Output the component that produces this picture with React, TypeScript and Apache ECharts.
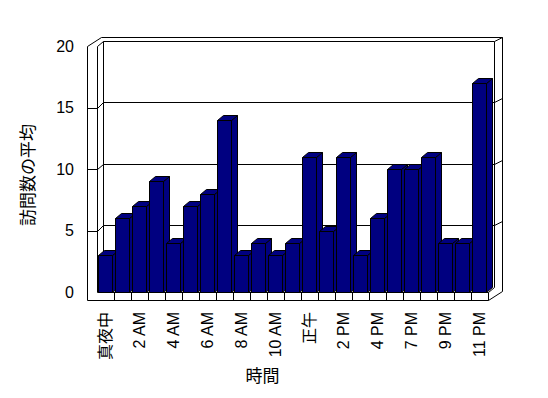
import React, { useEffect, useRef } from "react";
import * as echarts from "echarts";

const categories = [
  "真夜中", "1 AM", "2 AM", "3 AM", "4 AM", "5 AM", "6 AM", "7 AM", "8 AM", "9 AM", "10 AM", "11 AM",
  "正午", "1 PM", "2 PM", "3 PM", "4 PM", "5 PM", "7 PM", "8 PM", "9 PM", "10 PM", "11 PM",
];
const visits = [3, 6, 7, 9, 4, 7, 8, 14, 3, 4, 3, 4, 11, 5, 11, 3, 6, 10, 10, 11, 4, 4, 17];
const yTicks = [0, 5, 10, 15, 20];
const xTitle = "時間";
const yTitle = "訪問数の平均";

const FONT = "'Liberation Sans', 'Noto Sans CJK JP', sans-serif";
const NAVY = "#000080";
const D1: [number, number] = [6, -5.5];
const D2: [number, number] = [14, -9.5];
const BAR_D: [number, number] = [6, -5];
const WALL = 10;
const FLOOR = 8;

const px = (x: number, y: number): [number, number] => [Math.round(x) + 0.5, Math.round(y) + 0.5];
const lineStyle = { stroke: "#000", lineWidth: 1, fill: "none" };

export default function App() {
  const ref = useRef<HTMLDivElement>(null);
  useEffect(() => {
    document.body.style.margin = "0";
    if (!ref.current) return;
    const chart = echarts.init(ref.current, undefined, { renderer: "svg" });
    const yMax = yTicks[yTicks.length - 1];

    const frameItem = (params: any, api: any) => {
      const bw = api.size([1, 0])[0];
      const c0 = api.coord([0, 0]);
      const A = c0[0] - bw / 2;
      const B = c0[1];
      const R = A + bw * categories.length;
      const T = api.coord([0, yMax])[1];
      const children: any[] = [];
      children.push({
        type: "polygon",
        shape: {
          points: [
            px(A - WALL, T), px(A - WALL + D2[0], T + D2[1]), px(R + D2[0], T + D2[1]),
            px(R + D2[0], B + FLOOR + D2[1]), px(R, B + FLOOR), px(A - WALL, B + FLOOR),
          ],
        },
        style: { fill: "#fff", stroke: "#000", lineWidth: 1 },
      });
      const pl = (pts: [number, number][]) =>
        children.push({ type: "polyline", shape: { points: pts }, style: lineStyle });
      pl([px(A, T), px(A + D1[0], T + D1[1]), px(R + D1[0], T + D1[1]), px(R + D2[0], T + D2[1])]);
      pl([px(A, T), px(A, B)]);
      pl([px(A + D1[0], T + D1[1]), px(A + D1[0], B + D1[1])]);
      pl([px(R + D1[0], T + D1[1]), px(R + D1[0], B + D1[1])]);
      pl([px(A, B), px(R, B), px(R + D1[0], B + D1[1])]);
      for (let k = 1; k <= categories.length; k++) {
        pl([px(A + k * bw, B), px(A + k * bw, B + FLOOR)]);
      }
      yTicks.slice(1, -1).forEach((t) => {
        const y = api.coord([0, t])[1];
        pl([
          px(A - WALL, y), px(A, y), px(A + D1[0], y + D1[1]),
          px(R + D1[0], y + D1[1]), px(R + D2[0], y + D2[1]),
        ]);
      });
      return { type: "group", children };
    };

    const barItem = (params: any, api: any) => {
      const i = api.value(0);
      const v = api.value(1);
      const top = api.coord([i, v]);
      const base = api.coord([i, 0]);
      const bw = api.size([1, 0])[0];
      const x0 = Math.round(top[0] - bw / 2 + 1) + 0.5;
      const x1 = x0 + Math.round(bw - 3);
      const yt = Math.round(top[1]) + 0.5;
      const yb = Math.round(base[1]) + 0.5;
      const [dx, dy] = BAR_D;
      const st = { fill: NAVY, stroke: "#000", lineWidth: 1 };
      return {
        type: "group",
        children: [
          { type: "polygon", shape: { points: [[x1, yt], [x1 + dx, yt + dy], [x1 + dx, yb + dy], [x1, yb]] }, style: st },
          { type: "polygon", shape: { points: [[x0, yt], [x1, yt], [x1 + dx, yt + dy], [x0 + dx, yt + dy]] }, style: st },
          { type: "polygon", shape: { points: [[x0, yt], [x1, yt], [x1, yb], [x0, yb]] }, style: st },
        ],
      };
    };

    chart.setOption({
      animation: false,
      backgroundColor: "#fff",
      textStyle: { fontFamily: FONT },
      grid: { left: 97, top: 46, width: 391, height: 246 },
      xAxis: {
        type: "category",
        data: categories,
        name: xTitle,
        nameLocation: "middle",
        nameGap: 76,
        nameTextStyle: { fontSize: 17, color: "#000", fontFamily: FONT, padding: [0, 60, 0, 0] },
        axisLine: { show: false },
        axisTick: { show: false },
        splitLine: { show: false },
        axisLabel: {
          interval: 1,
          rotate: 90,
          margin: 20,
          fontSize: 16,
          color: "#000",
          fontFamily: FONT,
          padding: [0, 0, 11, 0],
        },
      },
      yAxis: {
        type: "value",
        min: 0,
        max: yMax,
        interval: 5,
        name: yTitle,
        nameLocation: "middle",
        nameGap: 60,
        nameRotate: 90,
        nameTextStyle: { fontSize: 17, color: "#000", fontFamily: FONT, padding: [0, 12, 0, 0] },
        axisLine: { show: false },
        axisTick: { show: false },
        splitLine: { show: false },
        axisLabel: { margin: 23, fontSize: 16, color: "#000", fontFamily: FONT },
      },
      series: [
        {
          type: "custom",
          name: "frame",
          renderItem: frameItem,
          data: [[0, 0]],
          clip: false,
          silent: true,
          z: 1,
        },
        {
          type: "custom",
          name: yTitle,
          renderItem: barItem,
          data: visits.map((v, i) => [i, v]),
          encode: { x: 0, y: 1 },
          clip: false,
          z: 2,
        },
      ],
    });
    return () => chart.dispose();
  }, []);
  return <div ref={ref} style={{ width: 548, height: 398 }} />;
}
